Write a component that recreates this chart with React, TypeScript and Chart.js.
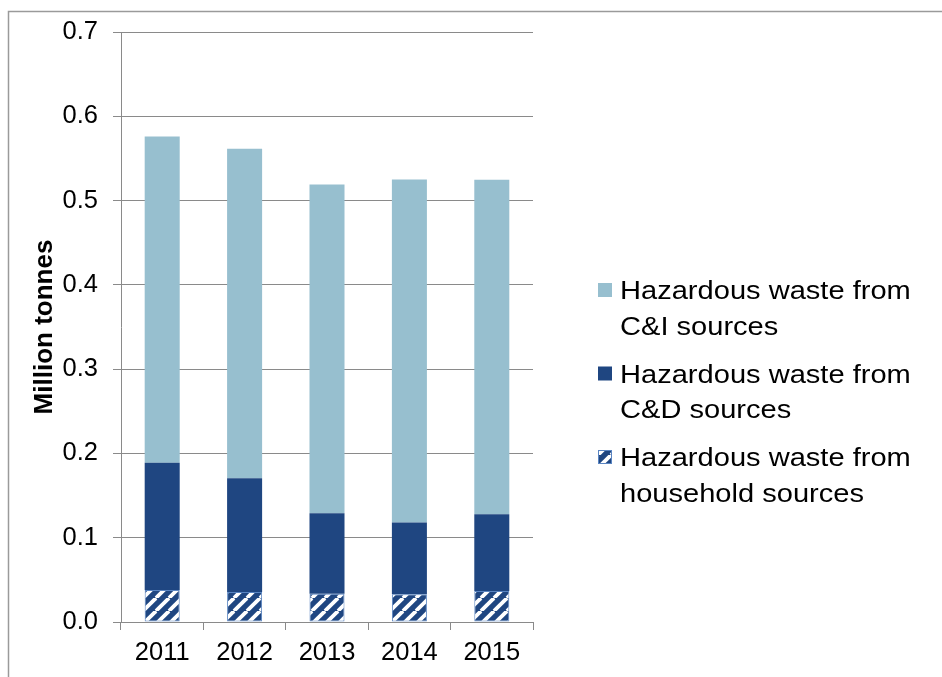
import React, { useEffect, useRef } from "react";
import { Chart, registerables } from "chart.js";

Chart.register(...registerables);

const years = ["2011", "2012", "2013", "2014", "2015"];
const householdValues = [0.038, 0.0355, 0.0335, 0.033, 0.0367];
const cdValues = [0.151, 0.135, 0.0955, 0.085, 0.091];
const ciValues = [0.387, 0.391, 0.39, 0.407, 0.397];
const legendCI = ["Hazardous waste from", "C&I sources"];
const legendCD = ["Hazardous waste from", "C&D sources"];
const legendHH = ["Hazardous waste from", "household sources"];
const yTitle = "Million tonnes";

const FONT = "'Liberation Sans', Arial, sans-serif";
const CI_COLOR = "#97bfcf";
const CD_COLOR = "#1f4681";
const HH_BORDER = "#5a85c2";
const GRID = "#8a8a8a";

function makeHatch(): CanvasPattern | string {
  const p = 13;
  const c = document.createElement("canvas");
  c.width = p;
  c.height = p;
  const g = c.getContext("2d");
  if (!g) return CD_COLOR;
  g.fillStyle = CD_COLOR;
  g.fillRect(0, 0, p, p);
  g.strokeStyle = "#ffffff";
  g.lineWidth = 3.8;
  for (const off of [-p, 0, p]) {
    g.beginPath();
    g.moveTo(off, p);
    g.lineTo(off + p, 0);
    g.stroke();
  }
  const pat = g.createPattern(c, "repeat");
  return pat || CD_COLOR;
}

export default function App() {
  const ref = useRef<HTMLCanvasElement>(null);

  useEffect(() => {
    if (!ref.current) return;
    const hatch = makeHatch();

    const framePlugin = {
      id: "frame",
      beforeDraw(chart: any) {
        const ctx = chart.ctx;
        ctx.save();
        ctx.fillStyle = "#ffffff";
        ctx.fillRect(0, 0, chart.width, chart.height);
        ctx.strokeStyle = "#9a9a9a";
        ctx.lineWidth = 1.5;
        ctx.beginPath();
        ctx.moveTo(8.5, chart.height);
        ctx.lineTo(8.5, 11.5);
        ctx.lineTo(chart.width, 11.5);
        ctx.stroke();
        ctx.restore();
      },
    };

    const legendPlugin = {
      id: "customLegend",
      afterDraw(chart: any) {
        const ctx = chart.ctx;
        const items = [
          { lines: legendCI, fill: CI_COLOR, border: null as string | null },
          { lines: legendCD, fill: CD_COLOR, border: null as string | null },
          { lines: legendHH, fill: hatch as any, border: HH_BORDER },
        ];
        const boxX = 598;
        const textX = 620;
        const firstBaseline = 299;
        const lineGap = 35.5;
        const itemStep = 83.5;
        const sx = 1.14;
        ctx.save();
        items.forEach((it, i) => {
          const base = firstBaseline + i * itemStep;
          ctx.fillStyle = it.fill;
          ctx.fillRect(boxX, base - 16, 14, 14);
          if (it.border) {
            ctx.strokeStyle = it.border;
            ctx.lineWidth = 1;
            ctx.strokeRect(boxX + 0.5, base - 15.5, 13, 13);
          }
          ctx.fillStyle = "#000000";
          ctx.font = `25.5px ${FONT}`;
          ctx.textBaseline = "alphabetic";
          ctx.textAlign = "left";
          it.lines.forEach((ln, j) => {
            ctx.save();
            ctx.translate(textX, base + j * lineGap);
            ctx.scale(sx, 1);
            ctx.fillText(ln, 0, 0);
            ctx.restore();
          });
        });
        ctx.restore();
      },
    };

    const chart = new Chart(ref.current, {
      type: "bar",
      data: {
        labels: years,
        datasets: [
          {
            label: legendHH.join(" "),
            data: householdValues,
            backgroundColor: hatch as any,
            borderColor: HH_BORDER,
            borderWidth: 1,
            borderSkipped: false,
          },
          {
            label: legendCD.join(" "),
            data: cdValues,
            backgroundColor: CD_COLOR,
            borderWidth: 0,
          },
          {
            label: legendCI.join(" "),
            data: ciValues,
            backgroundColor: CI_COLOR,
            borderWidth: 0,
          },
        ],
      },
      options: {
        responsive: false,
        animation: false,
        events: [],
        datasets: {
          bar: { barPercentage: 0.425, categoryPercentage: 1 },
        },
        layout: { padding: { top: 32, right: 409, bottom: 0, left: 0 } },
        plugins: {
          legend: { display: false },
          tooltip: { enabled: false },
        },
        scales: {
          x: {
            stacked: true,
            grid: {
              offset: true,
              drawOnChartArea: false,
              drawTicks: true,
              tickLength: 8,
              color: GRID,
            },
            border: { color: GRID },
            ticks: {
              font: { family: FONT, size: 25.5 },
              color: "#000000",
              padding: 8,
              maxRotation: 0,
            },
            afterFit: (s: any) => {
              s.height = 55;
            },
          },
          y: {
            stacked: true,
            min: 0,
            max: 0.7,
            ticks: {
              stepSize: 0.1,
              callback: (v: any) => Number(v).toFixed(1),
              font: { family: FONT, size: 25.5 },
              color: "#000000",
              padding: 15,
            },
            grid: { color: GRID, tickLength: 8 },
            border: { color: GRID },
            title: {
              display: true,
              text: yTitle,
              color: "#000000",
              font: { family: FONT, size: 26, weight: "bold" },
              padding: { top: 29, bottom: 0 },
            },
            afterFit: (s: any) => {
              s.width = 121;
            },
          },
        },
      },
      plugins: [framePlugin, legendPlugin],
    } as any);

    return () => chart.destroy();
  }, []);

  return (
    <div style={{ position: "fixed", left: 0, top: 0, width: 942, height: 677 }}>
      <canvas ref={ref} width={942} height={677} style={{ display: "block" }} />
    </div>
  );
}
